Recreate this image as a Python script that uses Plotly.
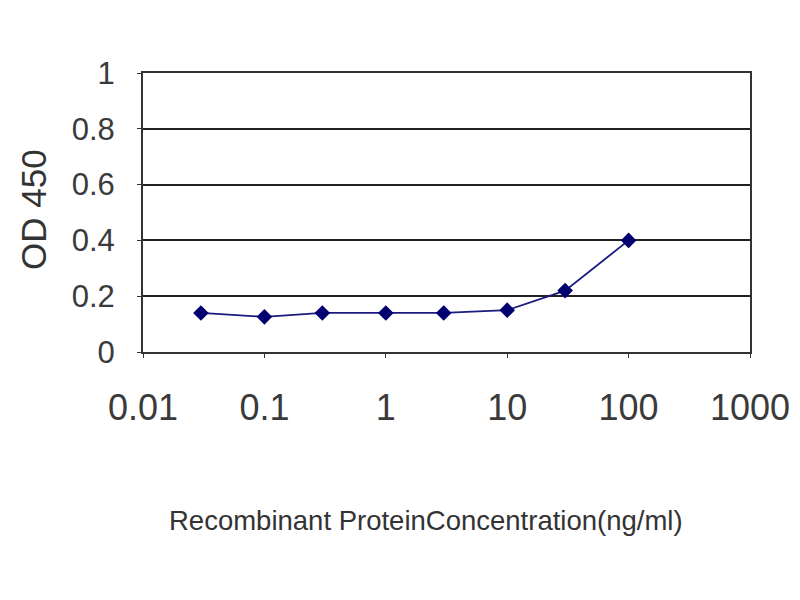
import plotly.graph_objects as go

concentration = [0.03, 0.1, 0.3, 1, 3, 10, 30, 100]
od450 = [0.14, 0.126, 0.14, 0.14, 0.14, 0.15, 0.22, 0.40]
x_ticks = [0.01, 0.1, 1, 10, 100, 1000]
x_tick_labels = ["0.01", "0.1", "1", "10", "100", "1000"]
y_ticks = [0, 0.2, 0.4, 0.6, 0.8, 1]
y_tick_labels = ["0", "0.2", "0.4", "0.6", "0.8", "1"]

fig = go.Figure()
fig.add_trace(go.Scatter(
    x=concentration, y=od450, mode="lines+markers",
    line=dict(color="#1a1a80", width=1.8),
    marker=dict(symbol="diamond", size=12, color="#000070"),
    showlegend=False,
))

font_family = "Liberation Sans, Arial, sans-serif"
fig.update_layout(
    width=800, height=600,
    margin=dict(l=135, r=58, t=65, b=256),
    paper_bgcolor="white", plot_bgcolor="white",
    font=dict(family=font_family, color="#333333"),
    xaxis=dict(
        type="log", range=[-2, 3], automargin=False,
        tickvals=x_ticks, ticktext=x_tick_labels,
        tickfont=dict(size=36, color="#3a3a3a"),
        ticks="outside", ticklen=4, tickcolor="#333",
        ticklabelstandoff=19,
        showgrid=False, zeroline=False,
        showline=True, linecolor="#333", linewidth=2, mirror=True,
    ),
    yaxis=dict(
        range=[0, 1], automargin=False,
        tickvals=y_ticks, ticktext=y_tick_labels,
        tickfont=dict(size=31, color="#3a3a3a"),
        ticks="outside", ticklen=4, tickcolor="#333",
        ticklabelstandoff=16,
        showgrid=True, gridcolor="#222", gridwidth=2,
        zeroline=False,
        showline=True, linecolor="#333", linewidth=2, mirror=True,
    ),
    annotations=[
        dict(text="Recombinant ProteinConcentration(ng/ml)", xref="paper", yref="paper",
             x=(426 - 143) / 607, y=(600 - 248 - 520) / 279, xanchor="center", yanchor="middle",
             showarrow=False, font=dict(size=27.5, color="#333")),
        dict(text="OD 450", xref="paper", yref="paper",
             x=(33 - 143) / 607, y=(352 - 210) / 279, xanchor="center", yanchor="middle",
             textangle=-90, showarrow=False, font=dict(size=35, color="#333")),
    ],
)

fig.write_html("out.html")
